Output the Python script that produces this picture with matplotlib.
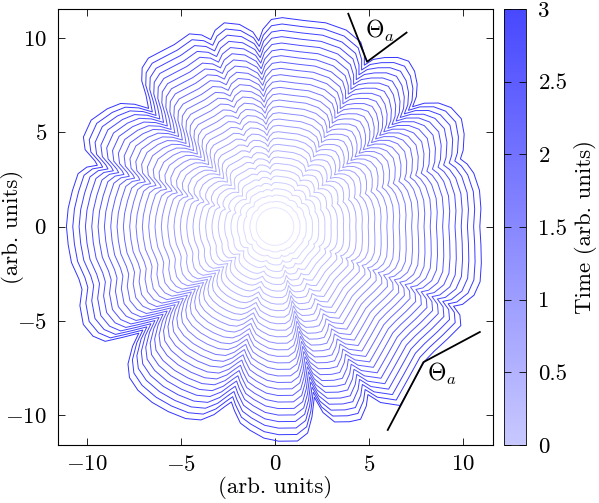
# growth fronts of a rough crystal, coloured by time

import numpy as np
import matplotlib
matplotlib.use('Agg')
from matplotlib import pyplot as plt
from matplotlib.collections import LineCollection
from matplotlib.colors import LinearSegmentedColormap, Normalize
from matplotlib.ticker import FuncFormatter

plt.rcParams['font.family'] = 'cmr10'
plt.rcParams['mathtext.fontset'] = 'cm'
plt.rcParams['axes.formatter.use_mathtext'] = True
plt.rcParams['font.size'] = 16.5

# outer front (t = 3): polar angle (deg) and radius
front_angle = [0, 5, 10, 15, 18, 20, 22, 26, 30, 34, 37, 39.5, 41, 42.5, 45,
               48, 51, 54, 57, 59.5, 61, 62.5, 65, 70, 76, 82, 88, 91, 93.5,
               95, 96.5, 100, 104, 107, 109, 111, 114, 119, 123, 127, 130,
               132.5, 134.5, 137, 139, 141.5, 145, 150, 155, 158, 160, 161,
               162.5, 165, 170, 175, 180, 185, 190, 195, 198, 202, 207, 211,
               214, 216, 218, 220, 223, 226, 230, 235, 240, 245, 249, 252,
               254.5, 256, 257.5, 260, 263, 267, 271, 276, 279, 281, 283,
               284.5, 287, 291, 294, 297, 299, 301, 305, 311, 318, 322, 327,
               332, 334.5, 336, 337.5, 341, 345, 350, 355]
front_radius = [10.9, 11.0, 11.05, 10.95, 10.75, 10.5, 10.8, 11.2, 11.45,
                11.3, 10.9, 10.3, 9.7, 10.2, 10.7, 11.1, 11.3, 11.1, 10.7,
                10.3, 9.8, 10.3, 10.8, 11.1, 11.15, 11.05, 11.1, 11.0, 10.5,
                9.9, 10.4, 10.9, 11.15, 10.9, 10.5, 10.9, 11.2, 11.05, 11.1,
                11.2, 11.0, 10.5, 9.8, 9.2, 9.9, 10.5, 10.9, 11.3, 11.25,
                10.9, 10.2, 10.0, 10.5, 10.85, 10.95, 11.05, 11.1, 11.05,
                11.0, 10.8, 10.8, 11.2, 11.45, 11.3, 10.9, 10.0, 9.2, 9.9,
                10.7, 11.15, 11.35, 11.4, 11.35, 11.25, 11.0, 10.5, 9.9, 9.6,
                10.0, 10.6, 10.9, 11.25, 11.4, 11.45, 11.1, 10.3, 9.3, 10.2,
                10.85, 11.1, 11.2, 10.7, 10.2, 10.9, 11.6, 11.1, 10.7, 10.75,
                10.95, 11.2, 10.9, 10.4, 10.8, 11.2, 11.3, 11.15, 11.0]
seed_radius = 1.0   # front at t = 0

# times of the drawn fronts
times = [0.0, 0.1, 0.2, 0.3, 0.4, 0.5, 0.6, 0.7, 0.8, 0.9, 1.0, 1.1, 1.2,
         1.3, 1.4, 1.5, 1.6, 1.7, 1.8, 1.9, 2.0, 2.1, 2.2, 2.3, 2.4, 2.5,
         2.6, 2.7, 2.8, 2.9, 3.0]
t_max = 3.0

# contact angle marks
theta_top = [(3.9, 11.3), (4.9, 8.75), (7.0, 10.3)]
theta_bottom = [(10.9, -5.6), (7.9, -7.2), (6.0, -10.8)]

cmap = LinearSegmentedColormap.from_list('wb', ['#e6e6ff', '#3333ff'])
norm = Normalize(0, t_max)

fig = plt.figure(figsize=(5.99, 5.03), dpi=100)
ax = fig.add_axes([0.0968, 0.1153, 0.7262, 0.8667])

ang = np.deg2rad(np.append(front_angle, front_angle[0] + 360))
rad = np.append(front_radius, front_radius[0])
segs = []
for t in times:
    r = seed_radius + (rad - seed_radius) * t / t_max
    segs.append(np.column_stack([r * np.cos(ang), r * np.sin(ang)]))
lc = LineCollection(segs, cmap=cmap, norm=norm, linewidths=0.7)
lc.set_array(np.array(times))
ax.add_collection(lc)

for pts in (theta_top, theta_bottom):
    xs, ys = zip(*pts)
    ax.plot(xs, ys, color='black', lw=1.3)
ax.text(5.6, 10.4, r'$\Theta_a$', ha='center', va='center', fontsize=17)
ax.text(8.9, -7.85, r'$\Theta_a$', ha='center', va='center', fontsize=17)

ax.set_xlim(-11.55, 11.6)
ax.set_ylim(-11.6, 11.55)
ax.set_xticks([-10, -5, 0, 5, 10])
ax.set_yticks([-10, -5, 0, 5, 10])
ax.tick_params(direction='in', top=True, right=True, length=5, width=0.6)
ax.tick_params(axis='x', pad=7)
ax.tick_params(axis='y', pad=8)
ax.set_xlabel('(arb. units)')
ax.xaxis.set_label_coords(0.5, -0.098)
ax.set_ylabel('(arb. units)')
ax.yaxis.set_label_coords(-0.105, 0.5)
ax.yaxis.label.set_va('center')
ax.xaxis.label.set_va('center')
for s in ax.spines.values():
    s.set_linewidth(0.8)

cax = fig.add_axes([0.8414, 0.1153, 0.0367, 0.8667])
sm = plt.cm.ScalarMappable(norm=norm, cmap=LinearSegmentedColormap.from_list('cb', ['#c8c8ff', '#4848ff']))
cb = fig.colorbar(sm, cax=cax)
cb.set_ticks([0, 0.5, 1, 1.5, 2, 2.5, 3])
cb.ax.yaxis.set_major_formatter(FuncFormatter(lambda v, p: '%g' % v))
cb.ax.tick_params(direction='in', left=True, right=True, length=5, width=0.6, pad=9)
cb.outline.set_linewidth(0.6)
cb.set_label('Time (arb. units)')
cb.ax.yaxis.set_label_coords(3.7, 0.5)
cb.ax.yaxis.label.set_va('center')

plt.savefig('out.png')
